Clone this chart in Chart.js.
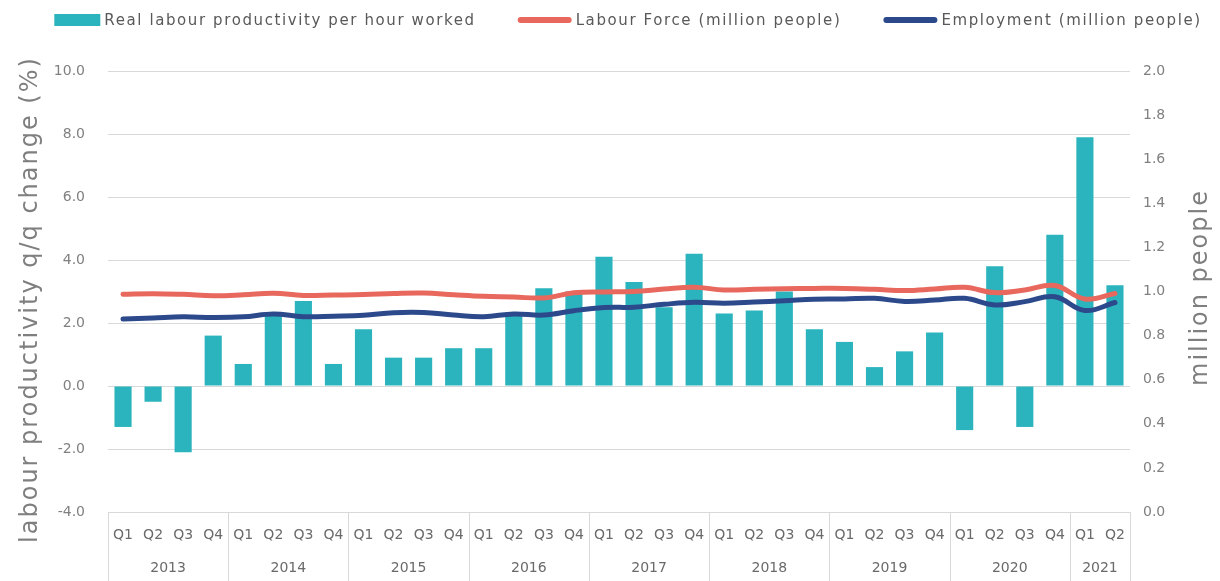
<!DOCTYPE html>
<html>
<head>
<meta charset="utf-8">
<title>Labour productivity, labour force and employment</title>
<script src="https://cdn.jsdelivr.net/npm/chart.js@4.4.1/dist/chart.umd.min.js"></script>
<style>
  html, body { margin: 0; padding: 0; background: #ffffff; }
  #wrap { width: 1220px; height: 581px; }
</style>
</head>
<body>
<div id="wrap"><canvas id="chart" width="1220" height="581"></canvas></div>
<script>
// Quarter tick labels and the year groups drawn underneath them
const quarterLabels = [
  'Q1','Q2','Q3','Q4', 'Q1','Q2','Q3','Q4', 'Q1','Q2','Q3','Q4',
  'Q1','Q2','Q3','Q4', 'Q1','Q2','Q3','Q4', 'Q1','Q2','Q3','Q4',
  'Q1','Q2','Q3','Q4', 'Q1','Q2','Q3','Q4', 'Q1','Q2'
];
const yearLabels = ['2013','2014','2015','2016','2017','2018','2019','2020','2021'];
const quartersPerYear = [4, 4, 4, 4, 4, 4, 4, 4, 2];

// Real labour productivity per hour worked, q/q change (%)
const productivity = [
  -1.3, -0.5, -2.1, 1.6,
   0.7,  2.3,  2.7, 0.7,
   1.8,  0.9,  0.9, 1.2,
   1.2,  2.3,  3.1, 3.0,
   4.1,  3.3,  2.5, 4.2,
   2.3,  2.4,  3.0, 1.8,
   1.4,  0.6,  1.1, 1.7,
  -1.4,  3.8, -1.3, 4.8,
   7.9,  3.2
];

// Labour force (million people)
const labourForce = [
  0.987, 0.990, 0.987, 0.981,
  0.985, 0.992, 0.982, 0.984,
  0.986, 0.991, 0.993, 0.985,
  0.978, 0.975, 0.971, 0.994,
  0.998, 1.000, 1.011, 1.019,
  1.007, 1.010, 1.013, 1.014,
  1.014, 1.010, 1.004, 1.011,
  1.019, 0.995, 1.007, 1.027,
  0.966, 0.991
];

// Employment (million people)
const employment = [
  0.875, 0.880, 0.885, 0.882,
  0.885, 0.898, 0.886, 0.888,
  0.892, 0.904, 0.905, 0.893,
  0.886, 0.898, 0.893, 0.913,
  0.927, 0.929, 0.942, 0.951,
  0.947, 0.952, 0.958, 0.965,
  0.966, 0.969, 0.955, 0.961,
  0.969, 0.939, 0.954, 0.976,
  0.914, 0.950
];

const TEAL = '#2bb4bd';
const RED = '#e8685e';
const NAVY = '#2c4a8b';
const GRID = '#d9d9d9';
const FONT = 'DejaVu Sans';

// Year row under the quarter labels, with separators between the years
const yearBands = {
  id: 'yearBands',
  afterDraw(chart) {
    const { ctx, chartArea } = chart;
    const x = chart.scales.x;
    const step = x.getPixelForValue(1) - x.getPixelForValue(0);
    const top = chartArea.bottom;
    const bottom = chart.height;
    ctx.save();
    ctx.strokeStyle = GRID;
    ctx.lineWidth = 1;
    ctx.fillStyle = '#6a6a6a';
    ctx.font = '14px "' + FONT + '"';
    ctx.textAlign = 'center';
    ctx.textBaseline = 'middle';
    let idx = 0;
    yearLabels.forEach((yr, i) => {
      const n = quartersPerYear[i];
      const left = x.getPixelForValue(idx) - step / 2;
      const right = x.getPixelForValue(idx + n - 1) + step / 2;
      [left, right].forEach(px => {
        const cx = Math.round(px) + 0.5;
        ctx.beginPath();
        ctx.moveTo(cx, top);
        ctx.lineTo(cx, bottom);
        ctx.stroke();
      });
      ctx.fillText(yr, (left + right) / 2, top + 56);
      idx += n;
    });
    ctx.restore();
  }
};

// Rotated axis titles, both reading bottom to top
const axisTitles = {
  id: 'axisTitles',
  afterDraw(chart) {
    const { ctx, chartArea } = chart;
    const mid = (chartArea.top + chartArea.bottom) / 2;
    const draw = (text, cx, cy) => {
      ctx.save();
      ctx.translate(cx, cy);
      ctx.rotate(-Math.PI / 2);
      ctx.font = '24px "' + FONT + '"';
      ctx.letterSpacing = '2px';
      ctx.fillStyle = '#7f7f7f';
      ctx.textAlign = 'center';
      ctx.textBaseline = 'middle';
      ctx.fillText(text, 0, 0);
      ctx.restore();
    };
    draw('labour productivity q/q change (%)', 31, mid + 8);
    draw('million people', chart.width - 19, mid - 4);
  }
};

// Legend row across the top
const topLegend = {
  id: 'topLegend',
  afterDraw(chart) {
    const { ctx } = chart;
    const y = 20;
    const gapText = 4;
    const gapItem = 42;
    ctx.save();
    ctx.font = '15px "' + FONT + '"';
    ctx.letterSpacing = '1.6px';
    ctx.textBaseline = 'middle';
    ctx.textAlign = 'left';
    const items = chart.data.datasets.map(ds => ({
      label: ds.label,
      isBar: ds.type === 'bar',
      color: ds.type === 'bar' ? ds.backgroundColor : ds.borderColor,
      swatch: ds.type === 'bar' ? 46 : 54
    }));
    let total = 0;
    items.forEach((it, i) => {
      it.textW = ctx.measureText(it.label).width;
      total += it.swatch + gapText + it.textW + (i ? gapItem : 0);
    });
    let cx = 628 - total / 2;
    items.forEach(it => {
      if (it.isBar) {
        ctx.fillStyle = it.color;
        ctx.fillRect(cx, y - 6, it.swatch, 12);
      } else {
        ctx.strokeStyle = it.color;
        ctx.lineWidth = 6;
        ctx.lineCap = 'round';
        ctx.beginPath();
        ctx.moveTo(cx + 3, y);
        ctx.lineTo(cx + it.swatch - 3, y);
        ctx.stroke();
      }
      cx += it.swatch + gapText;
      ctx.fillStyle = '#595959';
      ctx.fillText(it.label, cx, y + 1);
      cx += it.textW + gapItem;
    });
    ctx.restore();
  }
};

new Chart(document.getElementById('chart'), {
  data: {
    labels: quarterLabels,
    datasets: [
      {
        type: 'bar',
        label: 'Real labour productivity per hour worked',
        data: productivity,
        backgroundColor: TEAL,
        yAxisID: 'y',
        order: 3,
        barPercentage: 0.57,
        categoryPercentage: 1
      },
      {
        type: 'line',
        label: 'Labour Force (million people)',
        data: labourForce,
        borderColor: RED,
        backgroundColor: RED,
        borderWidth: 5,
        tension: 0.4,
        pointRadius: 0,
        borderCapStyle: 'round',
        borderJoinStyle: 'round',
        yAxisID: 'y1',
        order: 1
      },
      {
        type: 'line',
        label: 'Employment (million people)',
        data: employment,
        borderColor: NAVY,
        backgroundColor: NAVY,
        borderWidth: 5,
        tension: 0.4,
        pointRadius: 0,
        borderCapStyle: 'round',
        borderJoinStyle: 'round',
        yAxisID: 'y1',
        order: 2
      }
    ]
  },
  options: {
    responsive: false,
    animation: false,
    devicePixelRatio: 1,
    layout: { padding: { top: 71, left: 0, right: 0, bottom: 0 } },
    plugins: {
      legend: { display: false },
      tooltip: { enabled: false }
    },
    scales: {
      x: {
        grid: { display: false, drawTicks: false },
        border: { display: false },
        ticks: {
          autoSkip: false, maxRotation: 0, minRotation: 0, padding: 15,
          color: '#6a6a6a', font: { family: FONT, size: 14 }
        },
        afterFit(scale) { scale.height = 69; }
      },
      y: {
        position: 'left',
        min: -4, max: 10,
        grid: { color: GRID, drawTicks: false },
        border: { display: false },
        ticks: {
          stepSize: 2, padding: 23,
          color: '#808080', font: { family: FONT, size: 14 },
          callback: v => Number(v).toFixed(1)
        },
        afterFit(scale) { scale.width = 108; }
      },
      y1: {
        position: 'right',
        min: 0, max: 2,
        grid: { display: false, drawTicks: false },
        border: { display: false },
        ticks: {
          stepSize: 0.2, padding: 13,
          color: '#808080', font: { family: FONT, size: 14 },
          callback: v => Number(v).toFixed(1)
        },
        afterFit(scale) { scale.width = 90; }
      }
    }
  },
  plugins: [yearBands, axisTitles, topLegend]
});
</script>
</body>
</html>
